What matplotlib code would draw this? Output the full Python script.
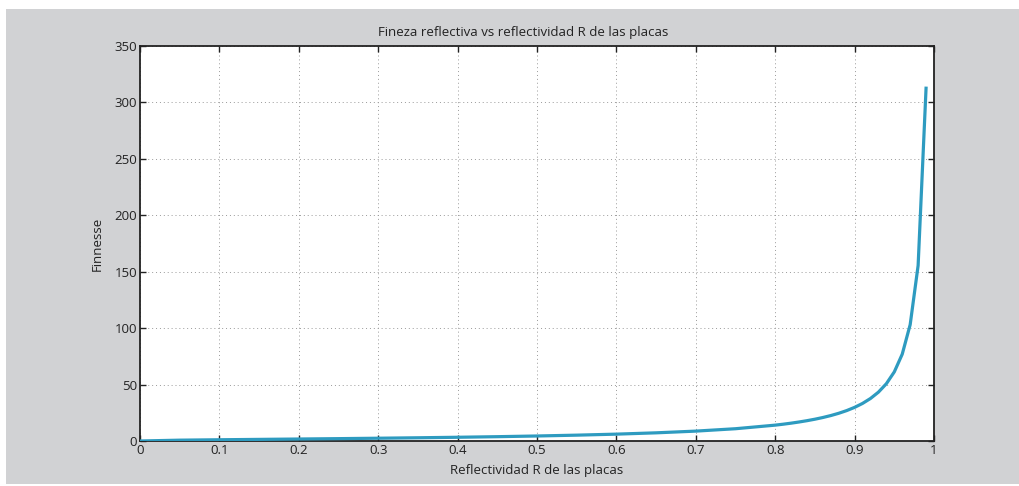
import matplotlib
matplotlib.use("Agg")
import matplotlib.pyplot as plt
from matplotlib.patches import Rectangle

# reflectivity R and finesse
reflectivity = [0.00, 0.05, 0.10, 0.15, 0.20, 0.25, 0.30, 0.35, 0.40, 0.45,
                0.50, 0.55, 0.60, 0.65, 0.70, 0.75, 0.80, 0.81, 0.82, 0.83,
                0.84, 0.85, 0.86, 0.87, 0.88, 0.89, 0.90, 0.91, 0.92, 0.93,
                0.94, 0.95, 0.96, 0.97, 0.98, 0.99]
finesse = [0.0, 0.74, 1.10, 1.43, 1.76, 2.09, 2.46, 2.86, 3.31, 3.83,
           4.44, 5.18, 6.08, 7.24, 8.76, 10.88, 14.05, 14.88, 15.80, 16.84,
           18.00, 19.31, 20.81, 22.54, 24.56, 26.94, 29.80, 33.30, 37.67, 43.28,
           50.76, 61.24, 76.95, 103.1, 155.5, 312.6]

xticks = [0, 0.1, 0.2, 0.3, 0.4, 0.5, 0.6, 0.7, 0.8, 0.9, 1]
xticklabels = ["0", "0.1", "0.2", "0.3", "0.4", "0.5", "0.6", "0.7", "0.8", "0.9", "1"]
yticks = [0, 50, 100, 150, 200, 250, 300, 350]

plt.rcParams["font.family"] = ["Open Sans", "DejaVu Sans"]
plt.rcParams["font.size"] = 9

fig = plt.figure(figsize=(10.19, 4.86), dpi=100, facecolor="white")
bg = Rectangle((6 / 1019, 2 / 486), 1 - 6 / 1019, 1 - 11 / 486,
               transform=fig.transFigure, facecolor="#d1d2d4",
               edgecolor="none", zorder=-10)
fig.add_artist(bg)

ax = fig.add_axes([140 / 1019, 1 - 441 / 486, 794 / 1019, 395 / 486])
ax.set_facecolor("white")
ax.plot(reflectivity, finesse, color="#2e9bc0", linewidth=2.3, zorder=3)

ax.set_xlim(0, 1)
ax.set_ylim(0, 350)
ax.set_xticks(xticks)
ax.set_xticklabels(xticklabels)
ax.set_yticks(yticks)
ax.grid(True, linestyle=(0, (1, 3)), color="#999999", linewidth=0.7)
ax.tick_params(direction="in", length=4, width=1, top=True, right=True,
               colors="#222222", labelcolor="#222222", labelsize=9.5, pad=2)
for sp in ax.spines.values():
    sp.set_linewidth(1.3)
    sp.set_color("#222222")

ax.set_title("Fineza reflectiva vs reflectividad R de las placas", fontsize=9.5,
             color="#222222", pad=7, x=0.482)
ax.set_xlabel("Reflectividad R de las placas", fontsize=9.5, color="#222222", labelpad=5)
ax.set_ylabel("Finnesse", fontsize=9.5, color="#222222", labelpad=8)

fig.savefig("out.png", dpi=100, facecolor=fig.get_facecolor())
